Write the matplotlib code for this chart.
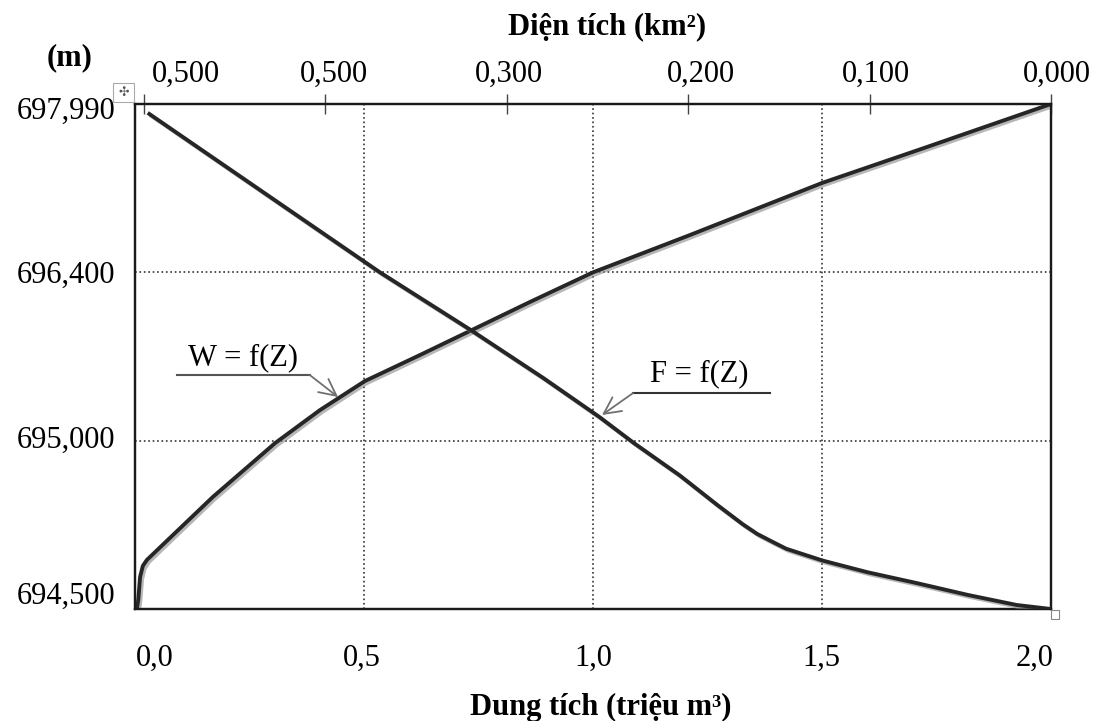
import numpy as np
import matplotlib
matplotlib.use('Agg')
import matplotlib.pyplot as plt
import matplotlib.patheffects as pe
from matplotlib.transforms import ScaledTranslation
from matplotlib.patches import Rectangle

plt.rcParams['font.family'] = ['Liberation Serif', 'DejaVu Serif']

# W = f(Z): dung tích (triệu m3) theo cao trình
z_w = [694.500, 694.527, 694.595, 694.628, 694.646, 694.833, 694.993, 695.255,
       695.496, 695.712, 695.912, 696.153, 696.400, 696.753, 697.244, 697.594,
       697.990]
w_vol = [0.004, 0.007, 0.011, 0.017, 0.026, 0.170, 0.306, 0.404,
         0.502, 0.622, 0.731, 0.862, 1.000, 1.212, 1.500, 1.736,
         2.000]

# F = f(Z): diện tích (km2) theo cao trình
z_f = [697.906, 696.988, 696.400, 695.921, 695.522, 695.197, 694.993, 694.898,
       694.877, 694.809, 694.752, 694.723, 694.698, 694.679, 694.665, 694.644,
       694.609, 694.577, 694.542, 694.512, 694.500]
f_area = [0.498, 0.420, 0.370, 0.320, 0.280, 0.249, 0.230, 0.205,
          0.200, 0.184, 0.170, 0.162, 0.153, 0.146, 0.138, 0.126,
          0.101, 0.074, 0.046, 0.019, 0.000]

y_ticks = [694.5, 695.0, 696.4, 697.99]
y_labels = ['694,500', '695,000', '696,400', '697,990']
x_ticks = [0.0, 0.5, 1.0, 1.5, 2.0]
x_labels = ['0,0', '0,5', '1,0', '1,5', '2,0']
top_ticks = [0.5, 0.4, 0.3, 0.2, 0.1, 0.0]
top_labels = ['0,500', '0,500', '0,300', '0,200', '0,100', '0,000']

# trục cao trình chia đều theo các mốc
def z_fwd(z):
    return np.interp(z, y_ticks, [0, 1, 2, 3])

def z_inv(p):
    return np.interp(p, [0, 1, 2, 3], y_ticks)

fig = plt.figure(figsize=(10.96, 7.21), dpi=100)
ax = fig.add_axes([0.1232, 0.1553, 0.8358, 0.7005])
ax.set_yscale('function', functions=(z_fwd, z_inv))
ax.set_ylim(694.5, 697.99)
ax.set_xlim(0, 2.0)

ax2 = ax.twiny()
ax2.set_xlim(0.505, 0.0)

line_col = '#262626'
shadow = [pe.SimpleLineShadow(offset=(1.5, -1.5), shadow_color='#888888', alpha=0.6),
          pe.Normal()]

ax.plot(w_vol, z_w, color=line_col, lw=2.8, solid_capstyle='butt',
        solid_joinstyle='round', path_effects=shadow, zorder=3)
ax2.plot(f_area, z_f, color=line_col, lw=2.8, solid_capstyle='butt',
         solid_joinstyle='round', path_effects=shadow, zorder=3)

# lưới
ax.set_xticks(x_ticks)
ax.set_xticklabels(x_labels)
ax.set_yticks(y_ticks)
ax.set_yticklabels(y_labels)
ax.minorticks_off()
ax.grid(True, linestyle=':', color='#333333', lw=1.2)
ax.tick_params(axis='x', length=0, pad=25, labelsize=22)
ax.tick_params(axis='y', length=0, pad=14, labelsize=22)

ax2.set_xticks(top_ticks)
ax2.set_xticklabels(top_labels)
ax2.tick_params(axis='x', direction='inout', length=14, width=1,
                color='#444444', pad=4, labelsize=22)

for a in (ax, ax2):
    for s in a.spines.values():
        s.set_linewidth(1.6)
        s.set_color('#1a1a1a')

# dịch nhãn cho giống bản gốc (px)
def shift(label, dx, dy):
    label.set_transform(label.get_transform() +
                        ScaledTranslation(dx / 100, dy / 100, fig.dpi_scale_trans))

for lab, dx in zip(ax.get_xticklabels(), [20, -2, 0, -1, -17]):
    shift(lab, dx, 0)
for lab, dx in zip(ax2.get_xticklabels(), [42, 8, 2, 13, 6, 6]):
    shift(lab, dx, 0)
for lab, dy in zip(ax.get_yticklabels(), [16, 4, 0, -4]):
    shift(lab, 0, dy)

# nhãn trục
ax.set_xlabel('Dung tích (triệu m³)', fontsize=22, fontweight='bold')
ax.xaxis.set_label_coords(0.508, -0.194)
ax.xaxis.label.set_va('center')
ax2.set_xlabel('Diện tích (km²)', fontsize=22, fontweight='bold')
ax2.xaxis.set_label_coords(0.515, 1.152)
ax2.xaxis.label.set_va('center')
ax.set_ylabel('(m)', fontsize=22, fontweight='bold', rotation=0)
ax.yaxis.set_label_coords(-0.071, 1.091)
ax.yaxis.label.set_va('center')
ax.yaxis.label.set_ha('center')

# chú thích đường cong
ax.text(0.118, 0.497, 'W = f(Z)', transform=ax.transAxes, fontsize=22,
        ha='center', va='center')
ax.plot([0.046, 0.191], [0.463, 0.463], transform=ax.transAxes,
        color='#555555', lw=1.5)
ax.annotate('', xy=(0.2216, 0.4198), xytext=(0.191, 0.463),
            xycoords='axes fraction', textcoords='axes fraction',
            arrowprops=dict(arrowstyle='->', color='#707070', lw=1.3,
                            mutation_scale=30, shrinkA=0, shrinkB=0))

ax.text(0.6157, 0.4653, 'F = f(Z)', transform=ax.transAxes, fontsize=22,
        ha='center', va='center')
ax.plot([0.5437, 0.6932], [0.4277, 0.4277], transform=ax.transAxes,
        color='#333333', lw=1.5)
ax.annotate('', xy=(0.5098, 0.3842), xytext=(0.5437, 0.4277),
            xycoords='axes fraction', textcoords='axes fraction',
            arrowprops=dict(arrowstyle='->', color='#707070', lw=1.3,
                            mutation_scale=30, shrinkA=0, shrinkB=0))

# ô điều khiển của bản gốc
fig.patches.append(Rectangle((113 / 1096, 1 - 102 / 721), 21 / 1096, 19 / 721,
                             transform=fig.transFigure, fill=False,
                             ec='#aaaaaa', lw=0.8))
fig.text(123.5 / 1096, 1 - 92.5 / 721, '✣', family='DejaVu Sans', fontsize=9,
         ha='center', va='center', color='#555555')
fig.patches.append(Rectangle((1051 / 1096, 1 - 619 / 721), 8 / 1096, 9 / 721,
                             transform=fig.transFigure, fill=False,
                             ec='#888888', lw=0.8))

fig.savefig('out.png', dpi=100)
